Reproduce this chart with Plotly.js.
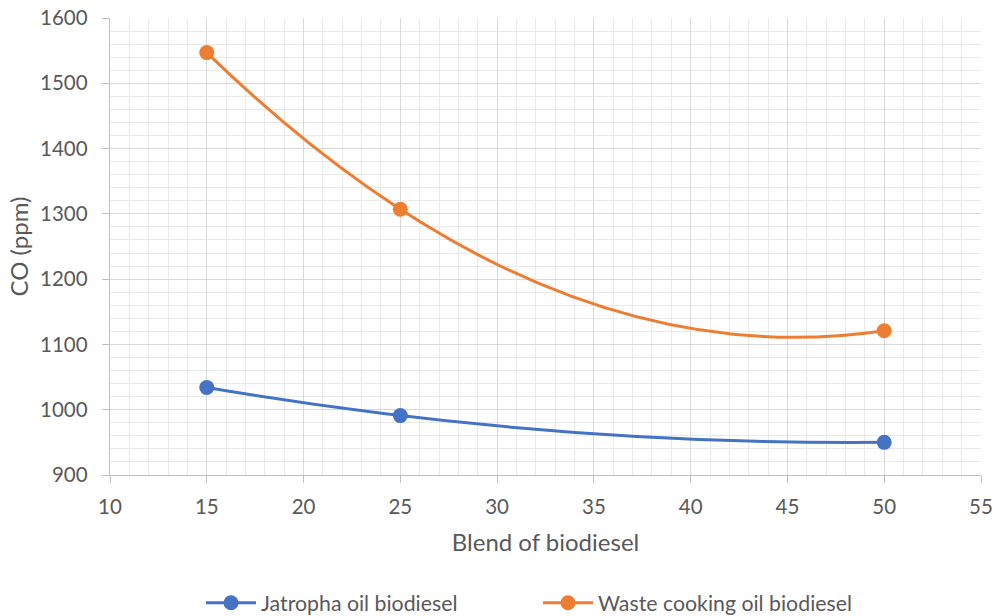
<!DOCTYPE html>
<html><head><meta charset="utf-8">
<script src="https://cdn.plot.ly/plotly-3.0.1.min.js"></script>
<style>
html,body{margin:0;padding:0;background:#fff}
#chart{width:996px;height:616px}
/* the smoothed curves are drawn as shapes; hide the straight trace lines in the plot area only (legend keeps them) */
#chart .cartesianlayer .scatterlayer path.js-line{display:none !important}
</style>
</head><body><div id="chart"></div>
<script>
const blend = [15, 25, 50];
const jatropha = [1034, 991, 950];
const wasteCooking = [1547, 1307, 1121];
const seriesNames = ["Jatropha oil biodiesel", "Waste cooking oil biodiesel"];
const colors = ["#4472C4", "#ED7D31"];
const seriesValues = [jatropha, wasteCooking];

const fam = "Lato, 'Open Sans', sans-serif";
const tickFont = {family: fam, color: "#595959", size: 20.5};
const titleFont = {family: fam, color: "#595959", size: 24};
const legendFont = {family: fam, color: "#595959", size: 21.3};

const traces = seriesValues.map((ys, i) => ({
  x: blend, y: ys, name: seriesNames[i], type: "scatter", mode: "lines+markers",
  line: {color: colors[i], width: 3},
  marker: {color: colors[i], size: 15}
}));

// smooth curve through the three points (one quadratic Bezier, like the spreadsheet's smoothed line)
function smoothPath(xs, ys) {
  const [x0, x1, x2] = xs, [y0, y1, y2] = ys;
  const f01 = (y1 - y0) / (x1 - x0), f12 = (y2 - y1) / (x2 - x1);
  const c = (f12 - f01) / (x2 - x0);
  const slope0 = f01 + c * (x0 - x1);
  const xc = (x0 + x2) / 2, yc = y0 + slope0 * (x2 - x0) / 2;
  return `M${x0},${y0} Q${xc},${yc} ${x2},${y2}`;
}
const shapes = seriesValues.map((ys, i) => ({
  type: "path", xref: "x", yref: "y", layer: "between",
  path: smoothPath(blend, ys),
  line: {color: colors[i], width: 3}
}));

const layout = {
  width: 996, height: 616,
  margin: {l: 110, r: 15, t: 17.5, b: 141, autoexpand: false},
  paper_bgcolor: "#fff", plot_bgcolor: "#fff",
  font: tickFont, showlegend: true, shapes: shapes,
  legend: {orientation: "h", x: 0.1045, xanchor: "left", y: -0.28, yanchor: "middle",
           font: legendFont, entrywidth: 272, entrywidthmode: "pixels", itemwidth: 50, traceorder: "normal"},
  xaxis: {
    range: [10, 55], dtick: 5, tick0: 10, showgrid: true, gridcolor: "#d9d9d9", gridwidth: 1,
    ticks: "outside", ticklen: 7, tickcolor: "#bfbfbf", showline: true, linecolor: "#bfbfbf", linewidth: 1.3,
    zeroline: false, tickfont: tickFont, ticklabelstandoff: 6,
    minor: {dtick: 1, showgrid: true, gridcolor: "#e9e9e9", gridwidth: 1},
    title: {text: "Blend of biodiesel", font: titleFont, standoff: 17}
  },
  yaxis: {
    range: [900, 1600], dtick: 100, showgrid: true, gridcolor: "#d9d9d9", gridwidth: 1,
    ticks: "outside", ticklen: 7, tickcolor: "#bfbfbf", showline: true, linecolor: "#bfbfbf", linewidth: 1.3,
    zeroline: false, tickfont: tickFont, ticklabelstandoff: 10,
    minor: {dtick: 20, showgrid: true, gridcolor: "#e9e9e9", gridwidth: 1},
    title: {text: "CO (ppm)", font: titleFont, standoff: 4}
  }
};
Plotly.newPlot("chart", traces, layout, {displayModeBar: false, staticPlot: true});
</script></body></html>
